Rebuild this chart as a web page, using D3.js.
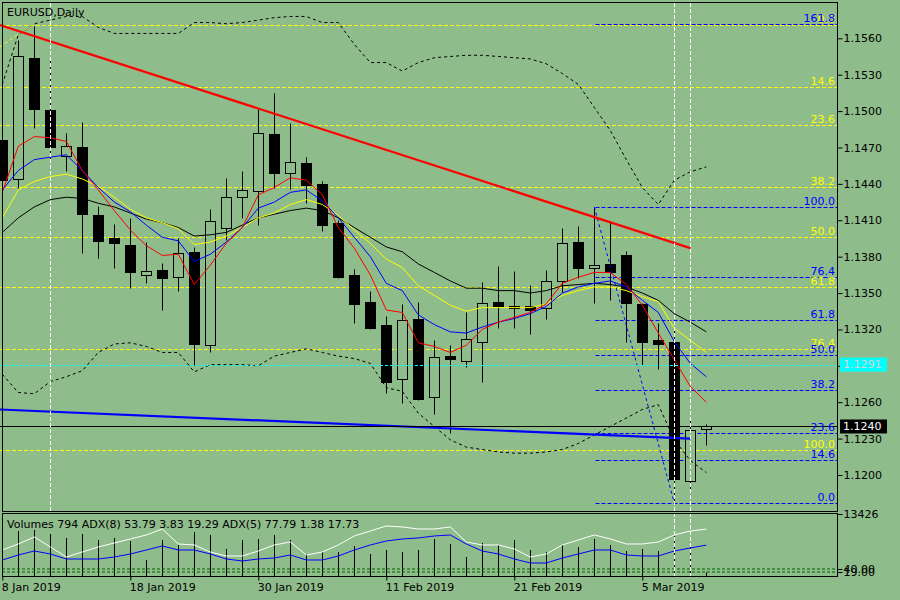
<!DOCTYPE html>
<html>
<head>
<meta charset="utf-8">
<script src="https://cdn.jsdelivr.net/npm/d3@7"></script>
<style>
  body { margin: 0; background: #8fbc8b; }
  svg text { font-family: "DejaVu Sans", sans-serif; font-size: 11px; }
</style>
</head>
<body>
<div id="chart"></div>
<script>
'use strict';

// trading days shown on the chart
const dates = ["8 Jan 2019","9 Jan 2019","10 Jan 2019","11 Jan 2019","14 Jan 2019","15 Jan 2019","16 Jan 2019","17 Jan 2019","18 Jan 2019",
    "21 Jan 2019","22 Jan 2019","23 Jan 2019","24 Jan 2019","25 Jan 2019","28 Jan 2019","29 Jan 2019","30 Jan 2019","31 Jan 2019",
    "1 Feb 2019","4 Feb 2019","5 Feb 2019","6 Feb 2019","7 Feb 2019","8 Feb 2019","11 Feb 2019","12 Feb 2019","13 Feb 2019","14 Feb 2019",
    "15 Feb 2019","18 Feb 2019","19 Feb 2019","20 Feb 2019","21 Feb 2019","22 Feb 2019","25 Feb 2019","26 Feb 2019","27 Feb 2019",
    "28 Feb 2019","1 Mar 2019","4 Mar 2019","5 Mar 2019","6 Mar 2019","7 Mar 2019","8 Mar 2019","11 Mar 2019"];
const dateTicks = ["8 Jan 2019","18 Jan 2019","30 Jan 2019","11 Feb 2019","21 Feb 2019","5 Mar 2019"];
const markedDays = ["11 Jan 2019","7 Mar 2019","8 Mar 2019"];

const open  = [1.1476,1.1444,1.1544,1.1501,1.1463,1.1470,1.1414,1.1395,1.1390,1.1365,1.1369,1.1363,1.1384,1.1307,1.1404,1.1429,1.1434,1.1481,1.1449,1.1457,1.1440,1.1408,1.1365,1.1343,1.1324,1.1279,1.1329,1.1264,1.1298,1.1294,1.1310,1.1343,1.1339,1.1339,1.1338,1.1360,1.1392,1.1371,1.1374,1.1381,1.1341,1.1311,1.1310,1.1195,1.1238];
const high  = [1.1489,1.1559,1.1570,1.1542,1.1482,1.1491,1.1422,1.1407,1.1412,1.1392,1.1375,1.1395,1.1388,1.1419,1.1445,1.1451,1.1502,1.1515,1.1490,1.1462,1.1442,1.1410,1.1370,1.1352,1.1331,1.1341,1.1343,1.1311,1.1307,1.1334,1.1359,1.1372,1.1368,1.1357,1.1369,1.1404,1.1405,1.1421,1.1409,1.1385,1.1342,1.1325,1.1320,1.1247,1.1242];
const low   = [1.1435,1.1437,1.1486,1.1458,1.1451,1.1383,1.1379,1.1371,1.1354,1.1358,1.1336,1.1352,1.1291,1.1301,1.1394,1.1412,1.1406,1.1437,1.1436,1.1424,1.1401,1.1362,1.1325,1.1320,1.1268,1.1259,1.1262,1.1250,1.1235,1.1289,1.1277,1.1321,1.1321,1.1316,1.1329,1.1351,1.1362,1.1342,1.1344,1.1310,1.1291,1.1287,1.1177,1.1186,1.1225];
const close = [1.1443,1.1545,1.1502,1.1470,1.1471,1.1415,1.1393,1.1391,1.1367,1.1368,1.1362,1.1383,1.1308,1.1409,1.1429,1.1435,1.1482,1.1449,1.1458,1.1439,1.1406,1.1363,1.1341,1.1321,1.1277,1.1328,1.1263,1.1297,1.1296,1.1312,1.1342,1.1339,1.1338,1.1336,1.1360,1.1391,1.1371,1.1373,1.1367,1.1342,1.1310,1.1308,1.1197,1.1237,1.1240];

// moving averages
const maRed    = [1.1433,1.1471,1.1479,1.1478,1.1475,1.1451,1.1435,1.1418,1.1402,1.1389,1.1381,1.1382,1.1357,1.1373,1.1391,1.1404,1.1431,1.1437,1.1445,1.1443,1.1431,1.1404,1.1387,1.1365,1.1336,1.1334,1.1309,1.1306,1.1301,1.1307,1.1320,1.1326,1.1330,1.1334,1.1341,1.1358,1.1363,1.1367,1.1367,1.1357,1.1340,1.1317,1.1295,1.1273,1.1260];
const maBlue   = [1.1435,1.1451,1.1460,1.1462,1.1464,1.1451,1.1437,1.1425,1.1417,1.1406,1.1396,1.1393,1.1376,1.1382,1.1392,1.1404,1.1420,1.1425,1.1433,1.1435,1.1426,1.1412,1.1396,1.1380,1.1358,1.1352,1.1332,1.1324,1.1318,1.1317,1.1322,1.1326,1.1329,1.1333,1.1339,1.1350,1.1355,1.1358,1.1360,1.1355,1.1344,1.1334,1.1310,1.1292,1.1281];
const maYellow = [1.1412,1.1435,1.1442,1.1446,1.1448,1.1444,1.1438,1.1429,1.1419,1.1412,1.1408,1.1403,1.1390,1.1392,1.1397,1.1404,1.1412,1.1416,1.1423,1.1427,1.1423,1.1414,1.1402,1.1391,1.1378,1.1371,1.1356,1.1348,1.1340,1.1335,1.1338,1.1338,1.1338,1.1338,1.1341,1.1348,1.1352,1.1355,1.1355,1.1352,1.1347,1.1343,1.1321,1.1311,1.1301];
const maBlack  = [1.1400,1.1412,1.1421,1.1427,1.1429,1.1428,1.1424,1.1421,1.1416,1.1411,1.1408,1.1404,1.1397,1.1398,1.1400,1.1406,1.1412,1.1415,1.1418,1.1420,1.1418,1.1412,1.1404,1.1396,1.1388,1.1384,1.1374,1.1367,1.1360,1.1354,1.1354,1.1352,1.1352,1.1350,1.1352,1.1356,1.1357,1.1358,1.1357,1.1355,1.1350,1.1344,1.1333,1.1326,1.1318];

// bollinger bands
const bandUpper = [1.1522,1.1563,1.1572,1.1575,1.1578,1.1578,1.1569,1.1564,1.1564,1.1564,1.1564,1.1564,1.1573,1.1573,1.1572,1.1573,1.1575,1.1577,1.1578,1.1578,1.1573,1.1573,1.1555,1.1540,1.1540,1.1533,1.1540,1.1544,1.1545,1.1546,1.1546,1.1545,1.1544,1.1543,1.1539,1.1531,1.1522,1.1503,1.1484,1.1460,1.1437,1.1423,1.1443,1.1450,1.1454];
const bandLower = [1.1283,1.1268,1.1267,1.1277,1.1281,1.1286,1.1301,1.1308,1.1309,1.1306,1.1301,1.1301,1.1285,1.1291,1.1291,1.1291,1.1290,1.1298,1.1301,1.1304,1.1301,1.1298,1.1296,1.1292,1.1272,1.1269,1.1251,1.1240,1.1229,1.1223,1.1221,1.1219,1.1218,1.1218,1.1219,1.1221,1.1226,1.1233,1.1240,1.1247,1.1254,1.1258,1.1229,1.1212,1.1202];

// lower window
const volumes = [9700,9750,9960,9100,8230,9100,7800,8230,7580,3470,7800,6710,9530,8880,5850,7800,8010,8880,7800,4760,5200,5200,6500,4760,5630,5200,5630,8010,6930,4110,7150,6710,7800,5630,5200,6710,6280,8010,6710,5410,5850,5410,8660,7150,794];
const adxFive  = [46.5,55.5,66,51,36,43.5,51,57,63,69,78,55.5,54,43.5,37.5,37.5,45,54,58.5,39,43.5,54,67.5,75,82.5,81,78,78,81,58.5,54,54,48,36,40.5,54,61.5,69,63,55.5,55.5,58.5,69,75,77.8];
const adxEight = [31.5,39,45,40.5,33,33,33,36,40.5,46.5,52.5,46.5,46.5,40.5,33,30,33,34.5,39,31.5,31.5,37.5,46.5,54,60,63,64.5,67.5,69,55.5,45,40.5,33,27,27,34.5,40.5,46.5,46.5,39,37.5,37.5,45,49.5,53.8];
const levelValues = [40, 19];

// drawn objects
const priceTicks = [1.1200,1.1230,1.1260,1.1290,1.1320,1.1350,1.1380,1.1410,1.1440,1.1470,1.1500,1.1530,1.1560];
const fibLevels = [0, 14.6, 23.6, 38.2, 50.0, 61.8, 76.4, 100.0];
const fibLevelsWide = [0, 14.6, 23.6, 38.2, 50.0, 61.8, 76.4, 100.0, 161.8];
const yellowFib = { p0: 1.1571, p100: 1.1221 };
const blueFib = { p0: 1.1177, p100: 1.1421, from: 37, to: 42 };
const yellowFibRay = [[-0.15, 1.1553], [1.86, 1.1571]];
const redTrend = [[-0.15, 1.1571], [43, 1.1387]];
const blueTrend = [[-0.15, 1.1254], [43, 1.1230]];
const askPrice = 1.1291, bidPrice = 1.1240;
const volMax = 13426;

const bg = "#8fbc8b";

let svg = d3.select("#chart").append("svg")
    .attr("width", 900)
    .attr("height", 600);

svg.append("rect").attr("width", 900).attr("height", 600).attr("fill", bg);

let x = d3.scaleLinear().domain([0, 44]).range([2.3, 706.3]);
let y = d3.scaleLinear().domain([1.1200, 1.1560]).range([475, 38.3]);
let yVol = d3.scaleLinear().domain([0, volMax]).range([576, 514]);
let yAdx = d3.scaleLinear().domain([0, 100]).range([581, 514.3]);
let yLvl = d3.scaleLinear().domain([0, 100]).range([574.7, 560.4]);

let px = i => Math.round(x(i)) + 0.5;
let py = p => Math.round(y(p)) + 0.5;

let defs = svg.append("defs");
defs.append("clipPath").attr("id", "clipMain")
    .append("rect").attr("x", 0).attr("y", 3).attr("width", 837).attr("height", 508);
defs.append("clipPath").attr("id", "clipSub")
    .append("rect").attr("x", 0).attr("y", 514).attr("width", 837).attr("height", 62);

let main = svg.append("g").attr("clip-path", "url(#clipMain)");
let sub = svg.append("g").attr("clip-path", "url(#clipSub)");

// fibo levels, yellow across whole chart
fibLevels.forEach(r => {
    let p = yellowFib.p0 + (yellowFib.p100 - yellowFib.p0) * r / 100;
    main.append("line")
        .attr("x1", 0).attr("x2", 837)
        .attr("y1", py(p)).attr("y2", py(p))
        .attr("stroke", "#ffff00").attr("stroke-dasharray", "4,2");
});

// blue fibo from the last swing
fibLevelsWide.forEach(r => {
    let p = blueFib.p0 + (blueFib.p100 - blueFib.p0) * r / 100;
    main.append("line")
        .attr("x1", px(blueFib.from) + 1).attr("x2", 837)
        .attr("y1", py(p)).attr("y2", py(p))
        .attr("stroke", "#0000ff").attr("stroke-dasharray", "4,2");
});

// candles
let candles = d3.range(dates.length);
main.selectAll(".wick")
    .data(candles)
    .enter().append("line")
    .attr("class", "wick")
    .attr("x1", i => px(i)).attr("x2", i => px(i))
    .attr("y1", i => py(high[i])).attr("y2", i => py(low[i]))
    .attr("stroke", "#000");

main.selectAll(".body")
    .data(candles)
    .enter().append("rect")
    .attr("class", "body")
    .attr("x", i => px(i) - 5)
    .attr("width", 10)
    .attr("y", i => py(Math.max(open[i], close[i])))
    .attr("height", i => Math.max(1, py(Math.min(open[i], close[i])) - py(Math.max(open[i], close[i]))))
    .attr("fill", i => close[i] >= open[i] ? bg : "#000")
    .attr("stroke", "#000");

// bands
let line = d3.line().x((d, i) => x(i)).y(d => y(d));
[bandUpper, bandLower].forEach(b => {
    main.append("path").attr("d", line(b))
        .attr("fill", "none").attr("stroke", "#000").attr("stroke-dasharray", "3,3");
});

// moving averages
[[maBlack, "#000"], [maYellow, "#ffff00"], [maBlue, "#0000ff"], [maRed, "#ff0000"]].forEach(m => {
    main.append("path").attr("d", line(m[0]))
        .attr("fill", "none").attr("stroke", m[1]).attr("stroke-width", 1);
});

// fibo rays
let seg = d3.line().x(d => x(d[0])).y(d => y(d[1]));
main.append("path").attr("d", seg(yellowFibRay))
    .attr("fill", "none").attr("stroke", "#ffff00").attr("stroke-dasharray", "3,3");
main.append("path")
    .attr("d", seg([[blueFib.from, blueFib.p100], [blueFib.to, blueFib.p0]]))
    .attr("fill", "none").attr("stroke", "#0000ff").attr("stroke-dasharray", "3,3");

// trend lines
main.append("path").attr("d", seg(redTrend))
    .attr("fill", "none").attr("stroke", "#ff0000").attr("stroke-width", 2.2);
main.append("path").attr("d", seg(blueTrend))
    .attr("fill", "none").attr("stroke", "#0000ff").attr("stroke-width", 2.2);

// ask / bid lines
main.append("line").attr("x1", 0).attr("x2", 837)
    .attr("y1", py(askPrice)).attr("y2", py(askPrice))
    .attr("stroke", "#00ffff").attr("stroke-dasharray", "3,2");
main.append("line").attr("x1", 0).attr("x2", 837)
    .attr("y1", py(bidPrice)).attr("y2", py(bidPrice))
    .attr("stroke", "#000");

// vertical markers
markedDays.forEach((d, k) => {
    let i = dates.indexOf(d);
    svg.append("line")
        .attr("x1", px(i)).attr("x2", px(i))
        .attr("y1", 3).attr("y2", k == 0 ? 511 : 576)
        .attr("stroke", "#fff").attr("stroke-dasharray", "4,2");
});

// fibo labels (yellow first, blue on top)
fibLevels.forEach(r => {
    let p = yellowFib.p0 + (yellowFib.p100 - yellowFib.p0) * r / 100;
    svg.append("text").attr("x", 835).attr("y", py(p) - 3)
        .attr("text-anchor", "end").attr("fill", "#ffff00").text(r.toFixed(1));
});
fibLevelsWide.forEach(r => {
    let p = blueFib.p0 + (blueFib.p100 - blueFib.p0) * r / 100;
    svg.append("text").attr("x", 835).attr("y", py(p) - 3)
        .attr("text-anchor", "end").attr("fill", "#0000ff").text(r.toFixed(1));
});

// lower window: volumes + ADX
sub.selectAll(".vol")
    .data(volumes)
    .enter().append("line")
    .attr("class", "vol")
    .attr("x1", (d, i) => px(i)).attr("x2", (d, i) => px(i))
    .attr("y1", yVol(0)).attr("y2", d => yVol(d))
    .attr("stroke", "#000");

levelValues.forEach(v => {
    sub.append("line").attr("x1", 2).attr("x2", 837)
        .attr("y1", yLvl(v)).attr("y2", yLvl(v))
        .attr("stroke", "#006400").attr("stroke-dasharray", "3,2");
});

let adxLine = d3.line().x((d, i) => x(i)).y(d => yAdx(d));
sub.append("path").attr("d", adxLine(adxFive))
    .attr("fill", "none").attr("stroke", "#fff");
sub.append("path").attr("d", adxLine(adxEight))
    .attr("fill", "none").attr("stroke", "#0000ff");

// frames
svg.append("rect").attr("x", 2.5).attr("y", 2.5).attr("width", 835).attr("height", 509)
    .attr("fill", "none").attr("stroke", "#000");
svg.append("rect").attr("x", 2.5).attr("y", 513.5).attr("width", 835).attr("height", 63)
    .attr("fill", "none").attr("stroke", "#000");

// axes
function styleAxis(g) {
    g.select(".domain").remove();
    g.selectAll("text").attr("fill", "#000")
        .style("font-family", '"DejaVu Sans", sans-serif').style("font-size", "11px");
    g.selectAll("line").attr("stroke", "#000");
}

svg.append("g")
    .attr("transform", "translate(837.5,0)")
    .call(d3.axisRight(y).tickValues(priceTicks).tickFormat(d3.format(".4f")).tickSize(5).tickPadding(1))
    .call(styleAxis);

svg.append("g")
    .attr("transform", "translate(837.5,0)")
    .call(d3.axisRight(yVol).tickValues([volMax]).tickSize(5).tickPadding(1).tickFormat(d3.format("d")))
    .call(styleAxis);

svg.append("g")
    .attr("transform", "translate(837.5,0)")
    .call(d3.axisRight(yLvl).tickValues(levelValues).tickSize(5).tickPadding(1).tickFormat(d3.format(".2f")))
    .call(styleAxis);

svg.append("g")
    .attr("transform", "translate(0,576.5)")
    .call(d3.axisBottom(x).tickValues(dateTicks.map(d => dates.indexOf(d))).tickFormat(i => dates[i]).tickSize(4))
    .call(styleAxis)
    .call(g => g.selectAll("text").attr("text-anchor", "start").attr("x", -1));

// price boxes on the scale
[[askPrice, "#00ffff", "#d4d4d4"], [bidPrice, "#000", "#fff"]].forEach(b => {
    svg.append("rect").attr("x", 840).attr("y", y(b[0]) - 7).attr("width", 47).attr("height", 14)
        .attr("fill", b[1]);
    svg.append("text").attr("x", 843).attr("y", y(b[0])).attr("dy", "0.35em")
        .attr("fill", b[2]).text(b[0].toFixed(4));
});

// titles
svg.append("text").attr("x", 7).attr("y", 16).attr("fill", "#000").text("EURUSD,Daily");
svg.append("text").attr("x", 7).attr("y", 528).attr("fill", "#000")
    .text("Volumes " + volumes[volumes.length - 1] + " ADX(8) 53.79 3.83 19.29 ADX(5) 77.79 1.38 17.73");
</script>
</body>
</html>
